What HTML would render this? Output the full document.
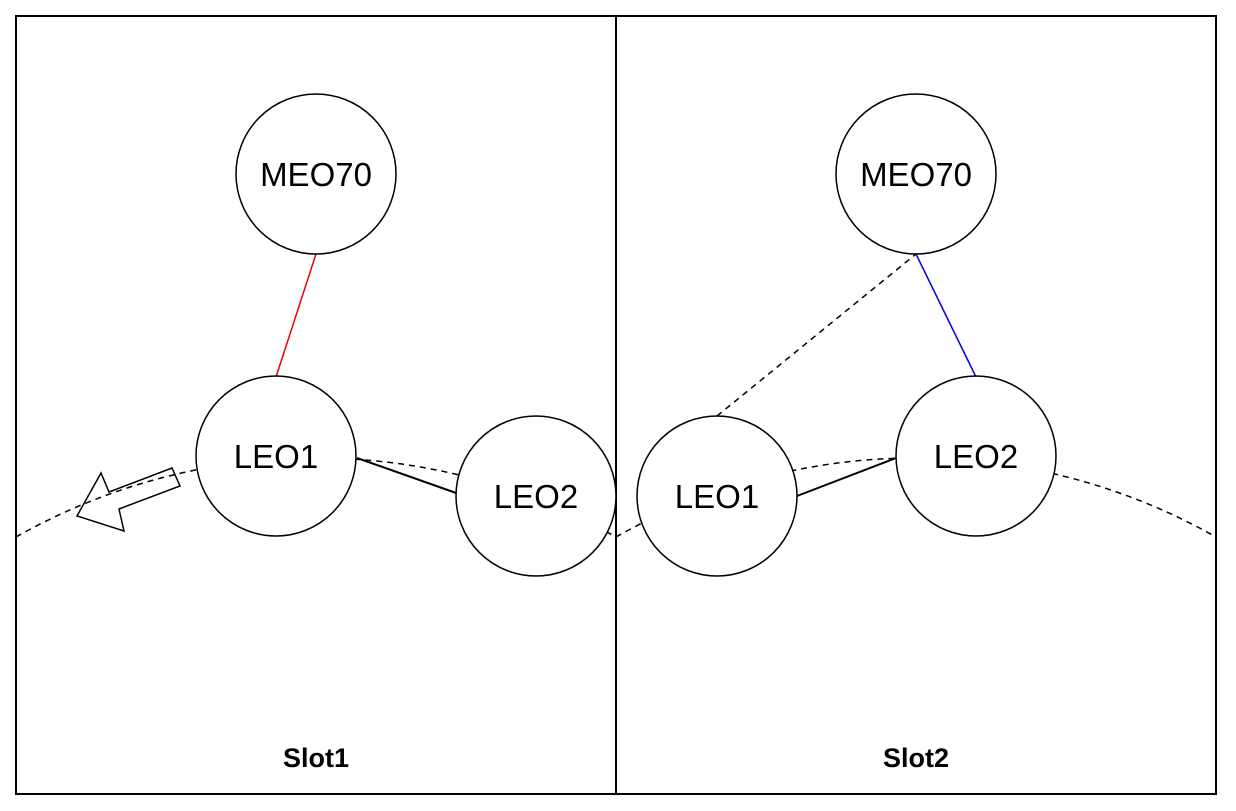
<!DOCTYPE html>
<html><head><style>body{margin:0;background:#fff}svg{display:block}</style></head><body>
<svg width="1236" height="811" viewBox="0 0 1236 811" xmlns="http://www.w3.org/2000/svg" font-family="Liberation Sans, sans-serif">
<rect x="16" y="16" width="1200" height="778" fill="#fff" stroke="#000" stroke-width="2"/>
<line x1="616" y1="16" x2="616" y2="794" stroke="#000" stroke-width="2"/>
<g fill="none" stroke="#000" stroke-width="1.5" stroke-dasharray="6,5">
<path d="M16 537 A609 609 0 0 1 616 537"/>
<path d="M616 537 A609 609 0 0 1 1216 537"/>
<line x1="717" y1="416" x2="916" y2="254"/>
</g>
<line x1="316" y1="254" x2="276" y2="377" stroke="#e00" stroke-width="1.5"/>
<line x1="916" y1="254" x2="976" y2="377" stroke="#00e" stroke-width="1.5"/>
<line x1="357" y1="458" x2="459" y2="494" stroke="#000" stroke-width="2"/>
<line x1="797" y1="496" x2="896" y2="458" stroke="#000" stroke-width="2"/>
<polygon points="172,468 180,486 119,509 124,531 77,516 101,473 109,492" fill="none" stroke="#000" stroke-width="1.5"/>
<g fill="#fff" stroke="#000" stroke-width="1.5">
<circle cx="316" cy="174" r="80"/>
<circle cx="276" cy="456" r="80"/>
<circle cx="536" cy="496" r="80"/>
<circle cx="916" cy="174" r="80"/>
<circle cx="717" cy="496" r="80"/>
<circle cx="976" cy="456" r="80"/>
</g>
<g font-size="33" text-anchor="middle">
<text x="316" y="186">MEO70</text>
<text x="276" y="468">LEO1</text>
<text x="536" y="508">LEO2</text>
<text x="916" y="186">MEO70</text>
<text x="717" y="508">LEO1</text>
<text x="976" y="468">LEO2</text>
</g>
<g font-size="27" font-weight="bold" text-anchor="middle">
<text x="316" y="767">Slot1</text>
<text x="916" y="767">Slot2</text>
</g>
</svg>
</body></html>
